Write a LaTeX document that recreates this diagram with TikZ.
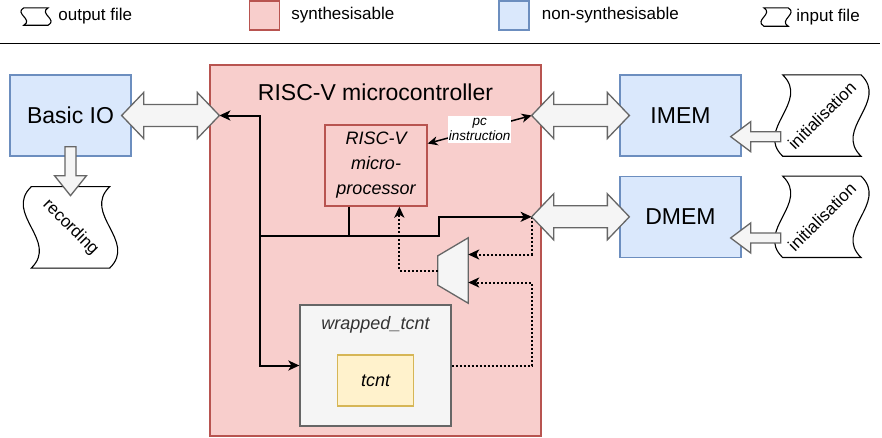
\documentclass[tikz,border=0pt]{standalone}
\usepackage{fontspec}
\setmainfont{Liberation Sans}
\usetikzlibrary{arrows.meta, positioning, calc}

\definecolor{synfill}{HTML}{F8CECC}
\definecolor{synline}{HTML}{B85450}
\definecolor{simfill}{HTML}{DAE8FC}
\definecolor{simline}{HTML}{6C8EBF}
\definecolor{wrapfill}{HTML}{F5F5F5}
\definecolor{wrapline}{HTML}{666666}
\definecolor{wraptext}{HTML}{333333}
\definecolor{cntfill}{HTML}{FFF2CC}
\definecolor{cntline}{HTML}{D6B656}

% file symbol: straight top/bottom, wavy sides (#2 = bulge of the upper half)
\newcommand{\filewave}[2]{%
  \draw[tapeline] (#1.north west) -- (#1.north east)
    .. controls ($(#1.north east)!1/3!(#1.south east)+(#2,0)$) and ($(#1.north east)!2/3!(#1.south east)-(#2,0)$) .. (#1.south east)
    -- (#1.south west)
    .. controls ($(#1.north west)!2/3!(#1.south west)-(#2,0)$) and ($(#1.north west)!1/3!(#1.south west)+(#2,0)$) .. (#1.north west) -- cycle;}

% fat two-headed arrow between two tips
\newcommand{\dblblock}[2]{%
  \draw[blockarrow] (#1) -- ++(22,-23) -- ++(0,12) -- ($(#2)+(-22,-11)$) -- ++(0,-12) -- (#2)
    -- ++(-22,23) -- ++(0,-12) -- ($(#1)+(22,11)$) -- ++(0,12) -- cycle;}

\begin{document}
\begin{tikzpicture}[
    x=1pt, y=-1pt,
    every node/.style={inner sep=0pt, font=\fontsize{23}{28}\selectfont},
    legend/.style={font=\fontsize{17}{20}\selectfont},
    swatch/.style={line width=1.3pt, minimum width=30pt, minimum height=29pt},
    hwbox/.style={draw=synline, fill=synfill, line width=1.3pt},
    simbox/.style={draw=simline, fill=simfill, line width=1.3pt, minimum width=121pt, minimum height=81pt},
    procbox/.style={hwbox, minimum width=102pt, minimum height=81pt, align=center, font=\itshape\fontsize{18}{25}\selectfont},
    wrapbox/.style={draw=wrapline, fill=wrapfill, line width=1.3pt, minimum width=151pt, minimum height=121pt},
    cntbox/.style={draw=cntline, fill=cntfill, line width=1.3pt, minimum width=76pt, minimum height=51pt, font=\itshape\fontsize{18}{22}\selectfont},
    filebox/.style={minimum width=78pt, minimum height=81pt},
    filetext/.style={font=\fontsize{17}{20}\selectfont},
    tapeline/.style={line width=1.1pt},
    blockarrow/.style={draw=wrapline, fill=wrapfill, line width=1.3pt},
    wire/.style={line width=2pt, -{Stealth[length=11pt, width=10pt, inset=3pt]}},
    dotwire/.style={wire, dash pattern=on 2pt off 2pt}
]
\useasboundingbox (0,0) rectangle (882,437);

% legend
\node[minimum width=24pt, minimum height=17pt] (outicon) at (36,16.5) {};
\filewave{outicon}{-10}
\node[legend, right=10pt of outicon] (outtext) {output file};
\node[swatch, draw=synline, fill=synfill] (synsq) at (264.5,15.5) {};
\node[legend, right=11pt of synsq] (syntext) {synthesisable};
\node[swatch, draw=simline, fill=simfill] (simsq) at (514,15.5) {};
\node[legend, right=12pt of simsq] (simtext) {non-synthesisable};
\node[minimum width=24pt, minimum height=18pt] (inicon) at (776,17) {};
\filewave{inicon}{10}
\node[legend, right=8pt of inicon] (intext) {input file};
\draw[line width=1.5pt] (0,43.5) -- (880,43.5);

% blocks
\node[simbox] (io) at (70.5,115.5) {Basic IO};
\node[filebox, below=30pt of io, label={[filetext, rotate=-45]center:recording}] (rec) {};
\node[hwbox, minimum width=331pt, minimum height=371pt] (mcu) at (375.5,250.5) {};
\node (mcutitle) at ([yshift=-28pt]mcu.north) {RISC-V microcontroller};
\node[procbox] (proc) at (376,165.5) {RISC-V\\micro-\\processor};
\node[wrapbox] (wrap) at (375.5,365.5) {};
\node[text=wraptext, font=\itshape\fontsize{18}{22}\selectfont] (wraptitle) at ([yshift=-20pt]wrap.north) {wrapped\_tcnt};
\node[cntbox] (tcnt) at ([yshift=-15pt]wrap.center) {tcnt};
\node[minimum width=30pt, minimum height=65pt] (mux) at (453,270.5) {};
\draw[blockarrow] (mux.north east) -- (mux.south east) -- ([yshift=18pt]mux.south west) -- ([yshift=-18pt]mux.north west) -- cycle;
\node[simbox] (imem) at (680.5,115.5) {IMEM};
\node[simbox, below=19pt of imem] (dmem) {DMEM};
\node[filebox, right=41pt of imem, label={[filetext, rotate=45]center:initialisation}] (init1) {};
\node[filebox, right=41pt of dmem, label={[filetext, rotate=45]center:initialisation}] (init2) {};
\filewave{rec}{-28}
\filewave{init1}{28}
\filewave{init2}{28}

% tips of the fat arrows
\coordinate (ioA) at ($(io.east)+(-10,0)$);
\coordinate (ioB) at ($(mcu.west |- io.east)+(10,0)$);
\coordinate (imemA) at ($(mcu.east |- imem.west)+(-10,0)$);
\coordinate (imemB) at ($(imem.west)+(10,0)$);
\coordinate (dmemA) at ($(mcu.east |- dmem.west)+(-10,0)$);
\coordinate (dmemB) at ($(dmem.west)+(10,0)$);

% buses
\coordinate (bus) at ($(proc.south west)+(25,29)$);
\coordinate (spine) at ($(mcu.west)+(51,0)$);
\draw[wire] ([xshift=25pt]proc.south west) -- (bus) -- (bus -| spine) |- (ioB);
\draw[wire] (bus) -- ++(90,0) |- (dmemA);
\draw[wire] (bus -| spine) |- (wrap.west);
\draw[dotwire] (dmemA) |- ([yshift=16pt]mux.east);
\draw[dotwire] (wrap.east) -- (wrap.east -| dmemA) |- ([yshift=-12pt]mux.east);
\draw[dotwire] (mux.west) -| ([xshift=75pt]proc.south west);
\draw[line width=1.5pt, {Stealth[length=10pt, width=9pt, inset=3pt]}-{Stealth[length=10pt, width=9pt, inset=3pt]}]
    ([yshift=22pt]proc.east) -- node[fill=white, align=center, inner xsep=1pt, inner ysep=2pt, font=\itshape\fontsize{13.5}{15}\selectfont] {pc\\instruction} (imemA);

% fat arrows
\dblblock{ioA}{ioB}
\dblblock{imemA}{imemB}
\dblblock{dmemA}{dmemB}
\foreach \m in {imem, dmem}
  \draw[blockarrow] ($(\m.south east)+(-11,-20)$) -- ++(20,-15) -- ++(0,10) -- ++(30,0) -- ++(0,10) -- ++(-30,0) -- ++(0,10) -- cycle;
\draw[blockarrow] ($(io.south)+(0,39)$) -- ++(-16,-20) -- ++(10.5,0) -- ++(0,-29) -- ++(11,0) -- ++(0,29) -- ++(10.5,0) -- cycle;
\end{tikzpicture}
\end{document}
